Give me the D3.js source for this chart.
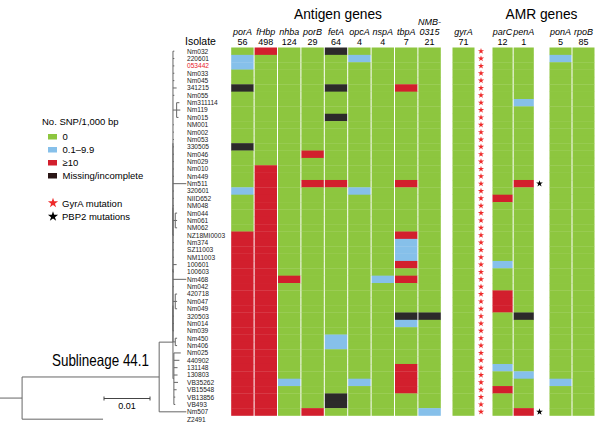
<!DOCTYPE html>
<html><head><meta charset="utf-8">
<script src="https://cdn.jsdelivr.net/npm/d3@7"></script>
<style>body{margin:0;background:#fff}svg{display:block;font-family:"Liberation Sans",Arial,sans-serif}</style>
</head><body><svg id="c" width="600" height="426"></svg>
<script>
// ---------------- DATA ----------------
const isolates = ["Nm032","220601","053442","Nm033","Nm045","341215","Nm055","Nm311114","Nm119","Nm015",
  "NM001","Nm002","Nm053","330505","Nm046","Nm029","Nm010","Nm449","Nm511","320601",
  "NIID652","NM048","Nm044","Nm061","NM062","NZ18MI0003","Nm374","SZ11003","NM11003","100601",
  "100603","Nm468","Nm042","420718","Nm047","Nm049","320503","Nm014","Nm039","Nm450",
  "Nm406","Nm025","440902","131148","130803","VB35262","VB15548","VB13856","VB493","Nm507","Z2491"];
const highlightIsolate = "053442";
const antigenGenes = ["porA","fHbp","nhba","porB","fetA","opcA","nspA","tbpA","NMB-0315"];
const antigenCounts = [56,498,124,29,64,4,4,7,21];
const amrGenes = ["gyrA","parC","penA","ponA","rpoB"];
const amrCounts = [71,12,1,5,85];
// category per isolate (rows Nm032..Nm507): 0 = 0, 1 = 0.1-9.9, 2 = >=10, 3 = missing
const porA  = "01100300000003000001000002222222222222222222222222";
const fHbp  = "20000000000000002222222222222222222222222222222222";
const nhba  = "00000000000000000000000000000002000000000000010000";
const porB  = "00000000000000200020000000000000000000000000000002";
const fetA  = "30000300030000000020000000000000000000011000000330";
const opcA  = "01000000000000000001000000000000000000000000010000";
const nspA  = "00000000000000000000000000000001000000000000000000";
const tbpA  = "00000200000000000020000002111202000031000002222000";
const nmb0315 = "00000000000000000000000000000000000030000000000001";
const gyrA  = "00000000000000000000000000000000000000000000000000";
const parC  = "00000000000000000000200000000100022200000001002000";
const penA  = "00000001000000000020000000000000000030000000100002";
const ponA  = "01000000000000000000000000000000000000000000010000";
const rpoB  = "00000000000000000000000000000000000000000000000000";
const gyrAMutation = isolates.slice(0, 50);
const pbp2Mutation = ["Nm511","Nm507"];
const legendLabels = ["0","0.1\u20139.9","\u226510","Missing/incomplete"];
const treeNewick = "(((((((((Nm032:0.0003,220601:0.0003,053442:0.0003,Nm033:0.0003,Nm045:0.0003,341215:0.0008,Nm055:0.0003,(Nm311114:0.0006,Nm119:0.0008,Nm015:0.0004):0.0008,NM001:0.0002,Nm002:0.0002,Nm053:0.0002,330505:0.0002,Nm046:0.0002,Nm029:0.0002,Nm010:0.0002,Nm449:0.0002,Nm511:0.0029,320601:0.0002,NIID652:0.0002,NM048:0.0002,(Nm044:0.0004,Nm061:0.0004,NM062:0.0004):0.0005,NZ18MI0003:0.0002):0,Nm374:0.0002,SZ11003:0.0002,NM11003:0.0002,100601:0.0008,100603:0.0002):0,Nm468:0.0029,Nm042:0.0002,(420718:0.0004,Nm047:0.0004,Nm049:0.0004):0.0005,320503:0.0002,Nm014:0.0002,Nm039:0.0002):0,(Nm450:0.0004,Nm406:0.0004):0.0005):0,(Nm025:0.0015,440902:0.0012,131148:0.0008,130803:0.0008,VB35262:0.0009,VB15548:0.0006,VB13856:0.0003,VB493:0.0003):0.0002):0.003,Nm507:0.0059):0.0298,Z2491:0.0176):0.0048;";

// ---------------- SETUP ----------------
const colors = ["#8dc63f","#86c0ea","#d21f2d","#2c2a2a"];
const svg = d3.select("#c");
const rowTop = 47.5, rowH = 7.36;
const y = d3.scaleBand().domain(isolates).range([rowTop, rowTop + rowH*isolates.length]);
const yc = n => y(n) + y.bandwidth()/2;

const values = {porA, fHbp, nhba, porB, fetA, opcA, nspA, tbpA, "NMB-0315": nmb0315, gyrA, parC, penA, ponA, rpoB};
const groups = [
  {genes: antigenGenes, counts: antigenCounts, range: [230.7, 441.3]},
  {genes: ["gyrA"], counts: [amrCounts[0]], range: [452, 475]},
  {genes: ["parC","penA"], counts: amrCounts.slice(1,3), range: [492, 534.3]},
  {genes: ["ponA","rpoB"], counts: amrCounts.slice(3,5), range: [549, 595]}
];
const colX = {}, colW = {};
groups.forEach(g => {
  const s = d3.scaleBand().domain(g.genes).range(g.range);
  g.genes.forEach(k => { colX[k] = s(k); colW[k] = s.bandwidth(); });
});

// heatmap cells
const heat = svg.append("g");
const hdrFont = 9;
groups.forEach(g => g.genes.forEach((gene, gi) => {
  const vals = Array.from(values[gene]).map(Number);
  heat.selectAll(null).data(vals).enter().append("rect")
    .attr("x", colX[gene] + 0.5)
    .attr("y", (d, i) => y(isolates[i]))
    .attr("width", colW[gene] - 1)
    .attr("height", y.bandwidth() + 0.3)
    .attr("fill", d => colors[d]);
  const cx = colX[gene] + colW[gene]/2;
  if (gene === "NMB-0315") {
    svg.append("text").attr("x", cx).attr("y", 24.6).attr("text-anchor","middle").attr("font-size",hdrFont).attr("font-style","italic").text("NMB-");
    svg.append("text").attr("x", cx).attr("y", 34.6).attr("text-anchor","middle").attr("font-size",hdrFont).attr("font-style","italic").text("0315");
  } else {
    svg.append("text").attr("x", cx).attr("y", 34.6).attr("text-anchor","middle").attr("font-size",hdrFont).attr("font-style","italic").text(gene);
  }
  svg.append("text").attr("x", cx).attr("y", 44.9).attr("text-anchor","middle").attr("font-size",hdrFont).text(g.counts[gi]);
}));

svg.append("text").attr("x",338).attr("y",18.5).attr("text-anchor","middle").attr("font-size",14.5)
  .attr("textLength",88).attr("lengthAdjust","spacingAndGlyphs").text("Antigen genes");
svg.append("text").attr("x",541.5).attr("y",18.5).attr("text-anchor","middle").attr("font-size",14.5)
  .attr("textLength",72).attr("lengthAdjust","spacingAndGlyphs").text("AMR genes");
svg.append("text").attr("x",185).attr("y",44.8).attr("font-size",10.5).text("Isolate");

// stars
const star = d3.symbol().type(d3.symbolStar);
svg.selectAll(null).data(gyrAMutation).enter().append("path")
  .attr("d", star.size(12)()).attr("fill","#ee2a2a")
  .attr("transform", d => `translate(481,${yc(d)})`);
svg.selectAll(null).data(pbp2Mutation).enter().append("path")
  .attr("d", star.size(14)()).attr("fill","#000")
  .attr("transform", d => `translate(539.5,${yc(d)})`);

// isolate labels
svg.selectAll(null).data(isolates).enter().append("text")
  .attr("x", 187).attr("y", d => yc(d) + 2.4).attr("font-size", 6.6)
  .attr("fill", d => d === highlightIsolate ? "#e8202a" : "#222").text(d => d);

// ---------------- TREE ----------------
function parseNewick(s) {
  let i = 0;
  function node() {
    const n = {children: []};
    if (s[i] === "(") {
      i++; n.children.push(node());
      while (s[i] === ",") { i++; n.children.push(node()); }
      i++;
    }
    let name = "";
    while (i < s.length && !":,();".includes(s[i])) name += s[i++];
    n.name = name;
    if (s[i] === ":") { i++; let num = ""; while (i < s.length && !",();".includes(s[i])) num += s[i++]; n.len = +num; }
    else n.len = 0;
    return n;
  }
  return node();
}
const tree = parseNewick(treeNewick);
const xT = d3.scaleLinear().domain([0, 0.01]).range([0, 46]);
function lay(n, acc) {
  n.cum = acc + n.len; n.x = xT(n.cum);
  if (n.children.length) {
    n.children.forEach(c => lay(c, n.cum));
    n.y = (n.children[0].y + n.children[n.children.length-1].y) / 2;
  } else n.y = yc(n.name);
}
lay(tree, 0);
const tg = svg.append("g").attr("stroke","#666").attr("stroke-width",1).attr("fill","none");
tg.append("line").attr("x1", xT(0)).attr("x2", tree.x).attr("y1", tree.y).attr("y2", tree.y);
(function draw(n) {
  if (!n.children.length) return;
  tg.append("line").attr("x1", n.x).attr("x2", n.x)
    .attr("y1", n.children[0].y).attr("y2", n.children[n.children.length-1].y);
  n.children.forEach(c => {
    if (c.x - n.x > 0.01) tg.append("line").attr("x1", n.x).attr("x2", c.x).attr("y1", c.y).attr("y2", c.y);
    draw(c);
  });
})(tree);

// scale bar
const sbx = 104, sby = 398.5;
const sbw = xT(0.01) - xT(0);
const sb = svg.append("g").attr("stroke","#444").attr("stroke-width",1);
sb.append("line").attr("x1", sbx).attr("x2", sbx + sbw).attr("y1", sby).attr("y2", sby);
sb.append("line").attr("x1", sbx).attr("x2", sbx).attr("y1", sby-2).attr("y2", sby+2);
sb.append("line").attr("x1", sbx + sbw).attr("x2", sbx + sbw).attr("y1", sby-2).attr("y2", sby+2);
svg.append("text").attr("x", sbx + sbw/2).attr("y", 409).attr("text-anchor","middle").attr("font-size",9).text("0.01");

svg.append("text").attr("x",52).attr("y",366).attr("font-size",16.5)
  .attr("textLength",97).attr("lengthAdjust","spacingAndGlyphs").text("Sublineage 44.1");

// ---------------- LEGEND ----------------
svg.append("text").attr("x",42).attr("y",124.5).attr("font-size",9.5).text("No. SNP/1,000 bp");
const lg = svg.selectAll(null).data(legendLabels).enter().append("g")
  .attr("transform", (d,i) => `translate(48,${136.5 + i*13})`);
lg.append("rect").attr("x",0).attr("y",-2.5).attr("width",9).attr("height",5.5).attr("fill",(d,i)=> i===3 ? "#2a1616" : colors[i]);
lg.append("text").attr("x",14.5).attr("y",3.5).attr("font-size",9.5).text(d => d);
const starsLegend = [{label:"GyrA mutation", color:"#ee2a2a", y:203}, {label:"PBP2 mutations", color:"#000", y:216.5}];
starsLegend.forEach(s => {
  svg.append("path").attr("d", star.size(32)()).attr("fill", s.color).attr("transform", `translate(53,${s.y})`);
  svg.append("text").attr("x",62).attr("y",s.y+3.5).attr("font-size",9.5).text(s.label);
});
</script></body></html>
